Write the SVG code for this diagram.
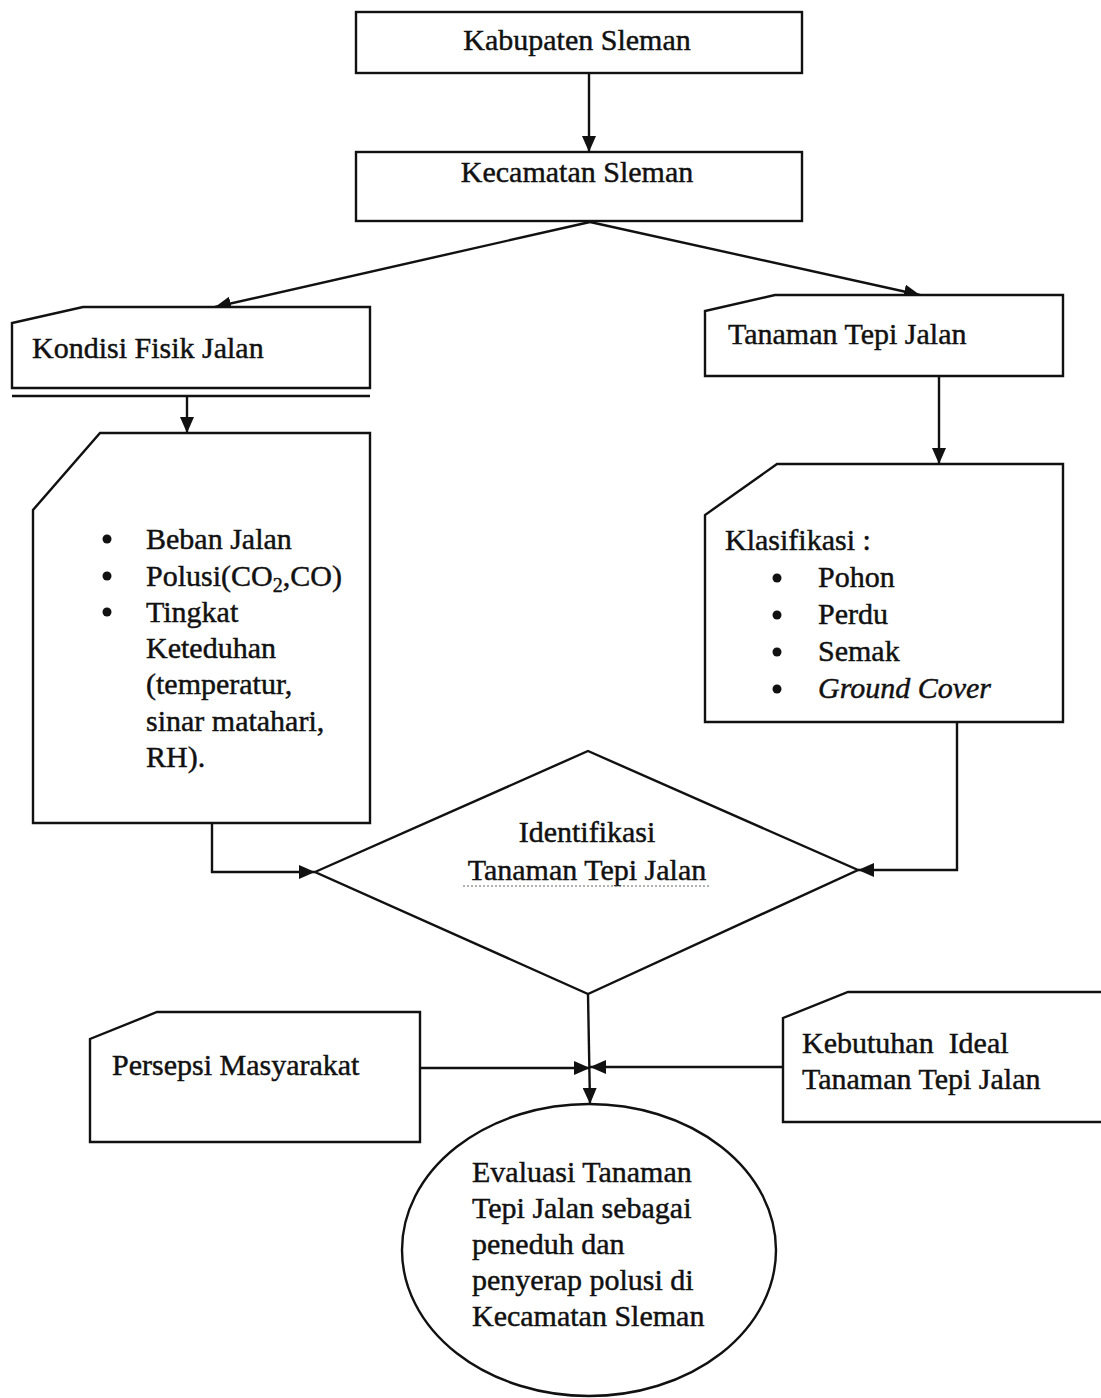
<svg xmlns="http://www.w3.org/2000/svg" width="1101" height="1398" viewBox="0 0 1101 1398">
<style>
.s{fill:#fff;stroke:#111;stroke-width:2.4}
.t{font-family:"Liberation Serif","Times New Roman",serif;font-size:30px;fill:#111;stroke:#111;stroke-width:0.45}
.c{fill:none;stroke:#111;stroke-width:2.4}
.b{fill:#111}
</style>
<defs>
<marker id="ah" markerUnits="userSpaceOnUse" markerWidth="17" markerHeight="14" refX="16" refY="7" orient="auto">
<path d="M0,0 L16,7 L0,14 z" fill="#111"/>
</marker>
</defs>
<rect width="1101" height="1398" fill="#fff"/>
<g id="connectors">
<path class="c" d="M589,73 V152" marker-end="url(#ah)"/>
<path class="c" d="M590,222 L215,307" marker-end="url(#ah)"/>
<path class="c" d="M590,222 L920,295" marker-end="url(#ah)"/>
<path class="c" d="M187,396 V433" marker-end="url(#ah)"/>
<path class="c" d="M939,376 V464" marker-end="url(#ah)"/>
<path class="c" d="M212,823 V872 H315" marker-end="url(#ah)"/>
<path class="c" d="M957,722 V870 H858" marker-end="url(#ah)"/>
<path class="c" d="M420,1068 H590" marker-end="url(#ah)"/>
<path class="c" d="M783,1067 H590" marker-end="url(#ah)"/>
<path class="c" d="M588,994 L590,1104" marker-end="url(#ah)"/>
</g>
<g id="kabupaten">
<rect class="s" x="356" y="12" width="446" height="61"/>
<text class="t" x="577" y="50" text-anchor="middle">Kabupaten Sleman</text>
</g>
<g id="kecamatan">
<rect class="s" x="356" y="152" width="446" height="69"/>
<text class="t" x="577" y="182" text-anchor="middle">Kecamatan Sleman</text>
</g>
<g id="kondisi">
<polygon class="s" points="83,307 370,307 370,388 12,388 12,323"/>
<line class="c" x1="12" y1="396" x2="370" y2="396"/>
<text class="t" x="32" y="358">Kondisi Fisik Jalan</text>
</g>
<g id="kondisi-detail">
<polygon class="s" points="100,433 370,433 370,823 33,823 33,510"/>
<circle class="b" cx="107" cy="539" r="4.5"/>
<circle class="b" cx="107" cy="576" r="4.5"/>
<circle class="b" cx="107" cy="612" r="4.5"/>
<text class="t" x="146" y="549">Beban Jalan</text>
<text class="t" x="146" y="586">Polusi(CO<tspan font-size="20" dy="6">2</tspan><tspan dy="-6">,CO)</tspan></text>
<text class="t" x="146" y="622">Tingkat</text>
<text class="t" x="146" y="658">Keteduhan</text>
<text class="t" x="146" y="694">(temperatur,</text>
<text class="t" x="146" y="731">sinar matahari,</text>
<text class="t" x="146" y="767">RH).</text>
</g>
<g id="tanaman">
<polygon class="s" points="775,295 1063,295 1063,376 705,376 705,311"/>
<text class="t" x="728" y="344">Tanaman Tepi Jalan</text>
</g>
<g id="klasifikasi">
<polygon class="s" points="777,464 1063,464 1063,722 705,722 705,515"/>
<text class="t" x="725" y="550">Klasifikasi :</text>
<circle class="b" cx="777" cy="578" r="4.5"/>
<circle class="b" cx="777" cy="615" r="4.5"/>
<circle class="b" cx="777" cy="652" r="4.5"/>
<circle class="b" cx="777" cy="689" r="4.5"/>
<text class="t" x="818" y="587">Pohon</text>
<text class="t" x="818" y="624">Perdu</text>
<text class="t" x="818" y="661">Semak</text>
<text class="t" x="818" y="698" font-style="italic">Ground Cover</text>
</g>
<g id="identifikasi">
<polygon class="s" points="315,872 588,751 858,870 588,994"/>
<text class="t" x="587" y="842" text-anchor="middle">Identifikasi</text>
<text class="t" x="587" y="880" text-anchor="middle">Tanaman Tepi Jalan</text>
<line x1="463" y1="886" x2="711" y2="886" stroke="#666" stroke-width="1.2" stroke-dasharray="2 2"/>
</g>
<g id="persepsi">
<polygon class="s" points="157,1012 420,1012 420,1142 90,1142 90,1039"/>
<text class="t" x="112" y="1075">Persepsi Masyarakat</text>
</g>
<g id="kebutuhan">
<polygon class="s" points="848,992 1112,992 1112,1122 783,1122 783,1018"/>
<text class="t" x="802" y="1053" xml:space="preserve">Kebutuhan  Ideal</text>
<text class="t" x="802" y="1089">Tanaman Tepi Jalan</text>
</g>
<g id="evaluasi">
<ellipse class="s" cx="589" cy="1250" rx="187" ry="146"/>
<text class="t" x="472" y="1182">Evaluasi Tanaman</text>
<text class="t" x="472" y="1218">Tepi Jalan sebagai</text>
<text class="t" x="472" y="1254">peneduh dan</text>
<text class="t" x="472" y="1290">penyerap polusi di</text>
<text class="t" x="472" y="1326">Kecamatan Sleman</text>
</g>
</svg>
